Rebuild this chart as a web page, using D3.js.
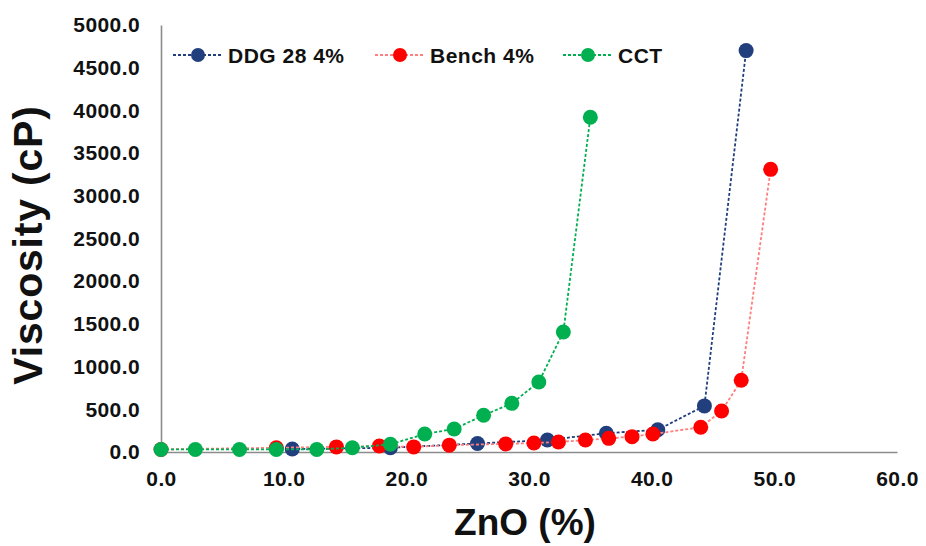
<!DOCTYPE html>
<html>
<head>
<meta charset="utf-8">
<script src="https://cdn.jsdelivr.net/npm/d3@7"></script>
<style>
  body { margin: 0; background: #fff; }
  text { font-family: "Liberation Sans", Arial, sans-serif; font-weight: bold; fill: #111; }
</style>
</head>
<body>
<div id="chart"></div>
<script>
// data
var seriesNames = ["DDG 28 4%", "Bench 4%", "CCT"];

var ddgX = [10.7, 18.7, 25.8, 31.5, 36.3, 40.5, 44.3, 47.7];
var ddgY = [35, 50, 100, 140, 220, 260, 540, 4700];

var benchX = [0, 9.4, 14.3, 17.8, 20.6, 23.5, 28.1, 30.4, 32.4, 34.6, 36.5, 38.4, 40.1, 44.0, 45.7, 47.3, 49.7];
var benchY = [30, 50, 60, 70, 60, 80, 95, 105, 117, 140, 160, 180, 210, 290, 480, 840, 3310];

var cctX = [0, 2.8, 6.4, 9.4, 12.7, 15.6, 18.7, 21.5, 23.9, 26.3, 28.6, 30.8, 32.8, 35.0];
var cctY = [30, 30, 30, 30, 30, 50, 90, 210, 270, 430, 570, 820, 1405, 3920];

var xTicks = [0, 10, 20, 30, 40, 50, 60];
var yTicks = [0, 500, 1000, 1500, 2000, 2500, 3000, 3500, 4000, 4500, 5000];

var width = 926, height = 546;
var margin = { top: 25, right: 29, bottom: 94, left: 161 };

var svg = d3.select('#chart')
    .append('svg')
    .attr('width', width)
    .attr('height', height);

var x = d3.scaleLinear()
    .domain([0, 60])
    .range([margin.left, width - margin.right]);

var y = d3.scaleLinear()
    .domain([0, 5000])
    .range([height - margin.bottom, margin.top]);

// axes
var xAxis = svg.append('g')
    .attr('transform', 'translate(0,' + (height - margin.bottom) + ')')
    .call(d3.axisBottom(x).tickValues(xTicks).tickSize(0).tickPadding(19).tickFormat(d3.format('.1f')));

var yAxis = svg.append('g')
    .attr('transform', 'translate(' + margin.left + ',0)')
    .call(d3.axisLeft(y).tickValues(yTicks).tickSize(0).tickPadding(21).tickFormat(d3.format('.1f')));

[xAxis, yAxis].forEach(function (g) {
    g.select('.domain').attr('stroke', '#8c8c8c').attr('stroke-width', 1.6);
    g.selectAll('text')
        .style('font-size', '21px')
        .style('letter-spacing', '0.4px')
        .attr('fill', '#111');
});

// titles
svg.append('text')
    .attr('x', (margin.left + width - margin.right) / 2 - 4)
    .attr('y', 535)
    .attr('text-anchor', 'middle')
    .style('font-size', '37px')
    .text('ZnO (%)');

svg.append('text')
    .attr('transform', 'translate(42,245) rotate(-90)')
    .attr('text-anchor', 'middle')
    .style('font-size', '41px')
    .style('letter-spacing', '0.8px')
    .text('Viscosity (cP)');

var series = [
    { name: seriesNames[0], xs: ddgX, ys: ddgY, dot: '#213f7d', line: '#213f7d' },
    { name: seriesNames[1], xs: benchX, ys: benchY, dot: '#ff0000', line: '#ff7f7f' },
    { name: seriesNames[2], xs: cctX, ys: cctY, dot: '#00b050', line: '#00b050' }
];

var line = d3.line()
    .x(function (d) { return x(d[0]); })
    .y(function (d) { return y(d[1]); });

// draw in order so green sits on top like the original
series.forEach(function (s) {
    var pts = s.xs.map(function (v, i) { return [v, s.ys[i]]; });
    var g = svg.append('g');
    g.append('path')
        .datum(pts)
        .attr('d', line)
        .attr('fill', 'none')
        .attr('stroke', s.line)
        .attr('stroke-width', 1.8)
        .attr('stroke-dasharray', '3,2');
    g.selectAll('circle')
        .data(pts)
        .enter()
        .append('circle')
        .attr('cx', function (d) { return x(d[0]); })
        .attr('cy', function (d) { return y(d[1]); })
        .attr('r', 7.5)
        .attr('fill', s.dot);
});

// legend
var legendX = [173, 375, 563];
var legend = svg.append('g');
series.forEach(function (s, i) {
    var lg = legend.append('g').attr('transform', 'translate(' + legendX[i] + ',55)');
    lg.append('line')
        .attr('x1', 0).attr('x2', 50)
        .attr('stroke', s.line)
        .attr('stroke-width', 1.8)
        .attr('stroke-dasharray', '3,2');
    lg.append('circle').attr('cx', 25).attr('r', 7).attr('fill', s.dot);
    lg.append('text')
        .attr('x', 55)
        .attr('y', 8)
        .style('font-size', '21px')
        .style('letter-spacing', '0.5px')
        .text(s.name);
});
</script>
</body>
</html>
